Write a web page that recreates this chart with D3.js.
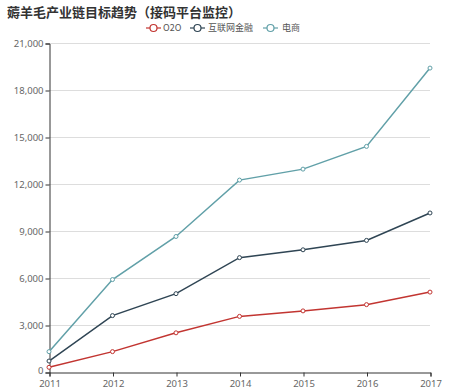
<!DOCTYPE html>
<html>
<head>
<meta charset="utf-8">
<script src="https://cdn.jsdelivr.net/npm/d3@7"></script>
<style>
  body { margin: 0; background: #fff; }
  text { font-family: "Noto Sans CJK SC", "Noto Sans", sans-serif; }
</style>
</head>
<body>
<div id="chartDiv"></div>
<script>
const years = ['2011', '2012', '2013', '2014', '2015', '2016', '2017'];
const seriesNames = ['O2O', '互联网金融', '电商'];
const o2o = [300, 1300, 2500, 3550, 3900, 4300, 5100];
const finance = [700, 3600, 5000, 7300, 7800, 8400, 10150];
const ecommerce = [1300, 5900, 8650, 12250, 12950, 14400, 19400];
const yTicks = [0, 3000, 6000, 9000, 12000, 15000, 18000, 21000];
const colors = ['#c23531', '#2f4554', '#61a0a8'];

const width = 449, height = 392;
const margin = {top: 43, right: 19, bottom: 20, left: 49};

let svg = d3.select('#chartDiv').append('svg')
    .attr('width', width)
    .attr('height', height);

// title
svg.append('text')
    .attr('x', 7)
    .attr('y', 17)
    .style('font-size', '13px')
    .style('font-weight', 'bold')
    .style('fill', '#333')
    .text('薅羊毛产业链目标趋势（接码平台监控）');

let x = d3.scalePoint()
    .domain(years)
    .range([margin.left, width - margin.right]);

let y = d3.scaleLinear()
    .domain([0, 21000])
    .range([height - margin.bottom, margin.top]);

// grid
svg.append('g')
    .selectAll('line')
    .data(yTicks.slice(1))
    .enter().append('line')
    .attr('x1', margin.left)
    .attr('x2', width - margin.right)
    .attr('y1', d => y(d) + 0.5)
    .attr('y2', d => y(d) + 0.5)
    .style('stroke', '#ddd');

let yAxis = d3.axisLeft(y)
    .tickValues(yTicks)
    .tickSize(4)
    .tickFormat(d3.format(','));

let gy = svg.append('g')
    .attr('transform', `translate(${margin.left + 0.5}, 0.5)`)
    .call(yAxis);
gy.select('.domain').style('stroke', '#333');
gy.selectAll('.tick line').style('stroke', '#333');
gy.selectAll('.tick text')
    .attr('x', -6)
    .attr('y', d => d === 0 ? -2 : 0)
    .attr('dy', '0.3em')
    .style('fill', '#666')
    .style('font-size', '9.5px')
    .style('font-family', '"Noto Sans", sans-serif');

let xAxis = d3.axisBottom(x).tickSize(4);
let gx = svg.append('g')
    .attr('transform', `translate(0.5, ${height - margin.bottom + 0.5})`)
    .call(xAxis);
gx.select('.domain').style('stroke', '#333');
gx.selectAll('.tick line').style('stroke', '#333');
gx.selectAll('.tick text')
    .attr('y', 8)
    .style('fill', '#666')
    .style('font-size', '9.5px')
    .style('font-family', '"Noto Sans", sans-serif');

const allSeries = [o2o, finance, ecommerce];

let line = d3.line()
    .x((d, i) => x(years[i]))
    .y(d => y(d));

allSeries.forEach((vals, k) => {
    svg.append('path')
        .datum(vals)
        .attr('d', line)
        .style('fill', 'none')
        .style('stroke', colors[k])
        .style('stroke-width', 1.5);

    svg.selectAll('circle.s' + k)
        .data(vals)
        .enter().append('circle')
        .attr('class', 's' + k)
        .attr('cx', (d, i) => x(years[i]))
        .attr('cy', d => y(d))
        .attr('r', 2)
        .style('fill', '#fff')
        .style('stroke', colors[k])
        .style('stroke-width', 1);
});

// legend
const iconX = [146, 190, 263];
const labelX = [163, 208, 282];
let legend = svg.append('g');
seriesNames.forEach((name, k) => {
    let g = legend.append('g').attr('transform', 'translate(0, 28)');
    g.append('line')
        .attr('x1', iconX[k]).attr('x2', iconX[k] + 15)
        .style('stroke', colors[k])
        .style('stroke-width', 1.2);
    g.append('circle')
        .attr('cx', iconX[k] + 7.5).attr('r', 3.5)
        .style('fill', '#fff')
        .style('stroke', colors[k])
        .style('stroke-width', 1.2);
    g.append('text')
        .attr('x', labelX[k])
        .attr('dy', '0.35em')
        .style('font-size', '9px')
        .style('fill', '#555')
        .text(name);
});
</script>
</body>
</html>
